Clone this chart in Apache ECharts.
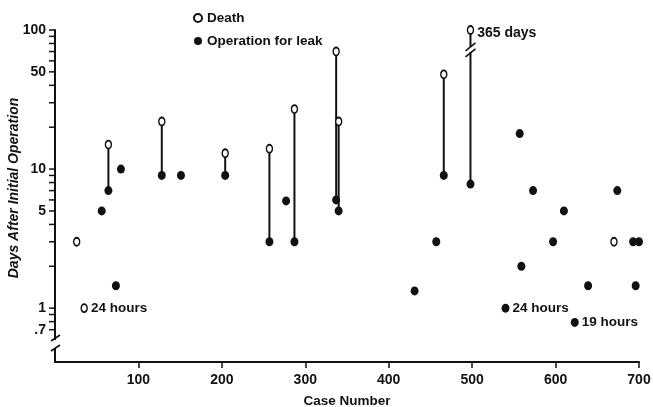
<!DOCTYPE html>
<html>
<head>
<meta charset="utf-8">
<script src="https://cdn.jsdelivr.net/npm/echarts@6/dist/echarts.min.js"></script>
<style>
  html, body { margin: 0; padding: 0; background: #fff; }
  #chart { width: 653px; height: 407px; }
</style>
</head>
<body>
<div id="chart"></div>
<script>
// cases with both an operation for leak and a later death (joined by a line)
const pairCases = [64, 128, 204, 257, 287, 337, 340, 466, 498];
const pairDeathDays = [15, 22, 13, 14, 27, 70, 22, 48, 100]; // 498: 365 days, drawn at top of broken axis
const pairLeakDays = [7, 9, 9, 3, 3, 6, 5, 9, 7.8];

// deaths without reoperation
const deathOnlyCases = [26, 35, 670];
const deathOnlyDays = [3, 1, 3];

// operations for leak without death
const leakOnlyCases = [56, 73, 79, 151, 277, 431, 457, 540, 557, 559, 573, 597, 610, 623, 639, 674, 693, 696, 700];
const leakOnlyDays = [5, 1.45, 10, 9, 5.9, 1.33, 3, 1, 18, 2, 7, 3, 5, 0.79, 1.45, 7, 3, 1.45, 3];

// notes written beside single points
const deathNoteCases = [35, 498];
const deathNoteTexts = ['24 hours', '365 days'];
const leakNoteCases = [540, 623];
const leakNoteTexts = ['24 hours', '19 hours'];

// axis ticks
const xTickValues = [100, 200, 300, 400, 500, 600, 700];
const yLabelValues = [0.7, 1, 5, 10, 50, 100];
const yTickValues = [0.7, 0.8, 0.9, 1, 2, 3, 4, 5, 6, 7, 8, 9, 10, 20, 30, 40, 50, 60, 70, 80, 90, 100];

const FONT = '"Liberation Sans", Arial, sans-serif';
const INK = '#111';
const ELLIPSE = 'path://M0,-1A1,1 0 1 1 0,1A1,1 0 1 1 0,-1Z';

const chart = echarts.init(document.getElementById('chart'));

/**
 * build scatter items, adding a side note where one is listed
 */
const buildPoints = (cases, days, noteCases, noteTexts) => {
  return cases.map((c, i) => {
    const item = { value: [c, days[i]] };
    const n = noteCases.indexOf(c);
    if (n >= 0) {
      item.label = {
        show: true,
        position: 'right',
        distance: 3,
        formatter: noteTexts[n],
        fontSize: c === 498 ? 14 : 13.5,
        offset: c === 498 ? [0, 3] : [0, 0]
      };
    }
    return item;
  });
};

const deathPoints = buildPoints(pairCases.concat(deathOnlyCases), pairDeathDays.concat(deathOnlyDays), deathNoteCases, deathNoteTexts);
const leakPoints = buildPoints(pairCases.concat(leakOnlyCases), pairLeakDays.concat(leakOnlyDays), leakNoteCases, leakNoteTexts);

const noteLabel = {
  color: INK,
  fontFamily: FONT,
  fontWeight: 'bold',
  fontSize: 13.5
};

const option = {
  animation: false,
  backgroundColor: '#fff',
  textStyle: { fontFamily: FONT, color: INK },
  grid: { left: 55, right: 14, top: 30, bottom: 45, outerBoundsMode: 'none' },
  legend: {
    data: ['Death', 'Operation for leak'],
    orient: 'vertical',
    left: 188,
    top: 6,
    itemWidth: 8,
    itemHeight: 9,
    itemGap: 9,
    selectedMode: false,
    textStyle: { color: INK, fontFamily: FONT, fontWeight: 'bold', fontSize: 13.5 }
  },
  xAxis: {
    type: 'value',
    min: 0,
    max: 700,
    interval: 100,
    name: 'Case Number',
    nameLocation: 'middle',
    nameGap: 32,
    nameTextStyle: { color: INK, fontFamily: FONT, fontWeight: 'bold', fontSize: 13.5 },
    axisLine: { onZero: false, lineStyle: { color: INK, width: 2 } },
    axisTick: { customValues: xTickValues, length: 6, lineStyle: { color: INK, width: 1.5 } },
    axisLabel: { customValues: xTickValues, margin: 11, color: INK, fontFamily: FONT, fontWeight: 'bold', fontSize: 14 },
    splitLine: { show: false }
  },
  yAxis: {
    type: 'log',
    logBase: 10,
    min: 0.41,
    max: 100,
    axisLine: { onZero: false, lineStyle: { color: INK, width: 2 } },
    axisTick: { show: false },
    axisLabel: {
      customValues: yLabelValues,
      margin: 9,
      color: INK,
      fontFamily: FONT,
      fontWeight: 'bold',
      fontSize: 14,
      formatter: (v) => (v < 1 ? String(v).replace('0.', '.') : String(v))
    },
    splitLine: { show: false },
    minorTick: { show: false }
  },
  graphic: [
    // y axis title
    {
      type: 'text',
      x: 14,
      y: 188,
      rotation: Math.PI / 2,
      style: {
        text: 'Days After Initial Operation',
        fill: INK,
        font: 'italic bold 14px ' + FONT,
        align: 'center',
        verticalAlign: 'middle'
      }
    },
    // break in the y axis below .7
    { type: 'rect', shape: { x: 50, y: 340, width: 10, height: 8 }, style: { fill: '#fff' }, z: 100 },
    { type: 'line', shape: { x1: 51, y1: 341, x2: 60, y2: 335 }, style: { stroke: INK, lineWidth: 1.6 }, z: 101 },
    { type: 'line', shape: { x1: 51, y1: 351, x2: 60, y2: 345 }, style: { stroke: INK, lineWidth: 1.6 }, z: 101 }
  ],
  series: [
    {
      // log tick marks on the y axis (1-2-...-9 in every decade)
      name: 'yticks',
      type: 'custom',
      silent: true,
      clip: false,
      z: 5,
      encode: { x: 0, y: 1 },
      data: yTickValues.map((v) => [0, v]),
      renderItem: (params, api) => {
        const p = api.coord([0, api.value(1)]);
        return {
          type: 'line',
          shape: { x1: p[0] - 6, y1: p[1], x2: p[0], y2: p[1] },
          style: { stroke: INK, lineWidth: 1.5 }
        };
      }
    },
    {
      name: 'link',
      type: 'custom',
      z: 1,
      encode: { x: 0, y: [1, 2] },
      data: pairCases.map((c, i) => [c, pairDeathDays[i], pairLeakDays[i]]),
      renderItem: (params, api) => {
        const top = api.coord([api.value(0), api.value(1)]);
        const bottom = api.coord([api.value(0), api.value(2)]);
        const children = [{
          type: 'line',
          shape: { x1: top[0], y1: top[1], x2: bottom[0], y2: bottom[1] },
          style: { stroke: INK, lineWidth: 2 }
        }];
        if (api.value(1) >= 100) {
          // the 365 day line is broken
          const m = api.coord([api.value(0), 72]);
          children.push({ type: 'rect', shape: { x: m[0] - 2, y: m[1] - 3, width: 4, height: 5 }, style: { fill: '#fff' } });
          children.push({ type: 'line', shape: { x1: m[0] - 5, y1: m[1] + 1, x2: m[0] + 5, y2: m[1] - 7 }, style: { stroke: INK, lineWidth: 1.6 } });
          children.push({ type: 'line', shape: { x1: m[0] - 5, y1: m[1] + 7, x2: m[0] + 5, y2: m[1] - 1 }, style: { stroke: INK, lineWidth: 1.6 } });
        }
        return { type: 'group', children };
      }
    },
    {
      name: 'Operation for leak',
      type: 'scatter',
      z: 3,
      symbol: ELLIPSE,
      symbolSize: [8, 9],
      itemStyle: { color: INK, borderWidth: 0, opacity: 1 },
      label: noteLabel,
      data: leakPoints
    },
    {
      name: 'Death',
      type: 'scatter',
      z: 4,
      symbol: ELLIPSE,
      symbolSize: [6, 8],
      itemStyle: { color: '#fff', borderColor: INK, borderWidth: 1.6, opacity: 1 },
      label: noteLabel,
      data: deathPoints
    }
  ]
};

chart.setOption(option);
</script>
</body>
</html>
